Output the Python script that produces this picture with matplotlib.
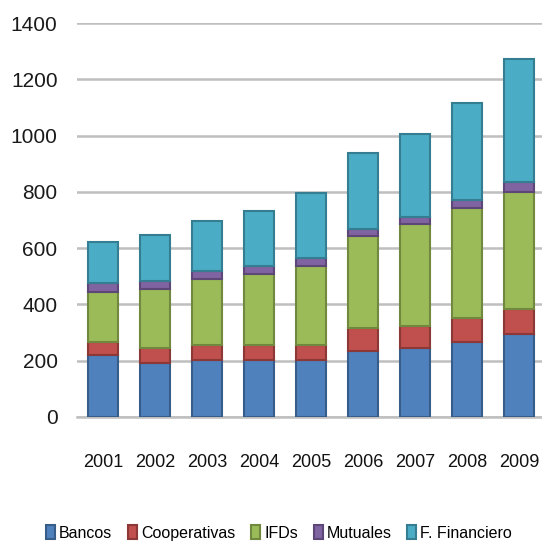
import matplotlib
matplotlib.use("Agg")
import matplotlib.pyplot as plt
import numpy as np

years = ["2001", "2002", "2003", "2004", "2005", "2006", "2007", "2008", "2009"]
bancos = [220, 192, 202, 202, 202, 235, 243, 267, 293]
cooperativas = [47, 51, 53, 53, 53, 80, 80, 83, 89]
ifds = [176, 210, 235, 252, 282, 328, 363, 392, 419]
mutuales = [32, 31, 28, 29, 27, 25, 26, 29, 35]
financiero = [148, 163, 179, 197, 233, 269, 293, 346, 436]

series = [
    ("Bancos", bancos, "#4F81BD", "#385D8A"),
    ("Cooperativas", cooperativas, "#C0504D", "#8C3836"),
    ("IFDs", ifds, "#9BBB59", "#71893F"),
    ("Mutuales", mutuales, "#8064A2", "#5C4776"),
    ("F. Financiero", financiero, "#4BACC6", "#357D91"),
]

plt.rcParams["font.family"] = ["Liberation Sans", "DejaVu Sans"]

fig = plt.figure(figsize=(5.42, 5.52), dpi=100)
ax = fig.add_axes([77 / 542, 135.3 / 552, 468 / 542, 393.4 / 552])

x = np.arange(len(years))
bottom = np.zeros(len(years))
handles = []
for name, vals, fc, ec in series:
    b = ax.bar(x, vals, width=0.58, bottom=bottom, color=fc, edgecolor=ec,
               linewidth=1.5, label=name, zorder=3)
    handles.append(b)
    bottom += np.array(vals)

ax.set_ylim(0, 1400)
ax.set_xlim(-0.5, len(years) - 0.5)
ax.set_yticks(np.arange(0, 1401, 200))
ax.yaxis.grid(True, color="#BFBFBF", linewidth=1.8, zorder=0)
ax.set_axisbelow(True)
for s in ["top", "right", "left"]:
    ax.spines[s].set_visible(False)
ax.spines["bottom"].set_color("#BFBFBF")
ax.spines["bottom"].set_linewidth(1.8)
ax.set_xticks(x)
ax.set_xticklabels(years)
ax.tick_params(axis="y", length=0, pad=14, labelsize=15, colors="#1a1a1a")
ax.tick_params(axis="x", length=0, pad=27, labelsize=13, colors="#111111")

fig.legend(handles=handles, labels=[s[0] for s in series], loc="center",
           bbox_to_anchor=(0.515, 19 / 552), ncol=5, frameon=False,
           fontsize=11.5, handlelength=0.55, handleheight=1.0, handletextpad=0.25,
           columnspacing=1.0)

fig.savefig("out.png", dpi=100)
